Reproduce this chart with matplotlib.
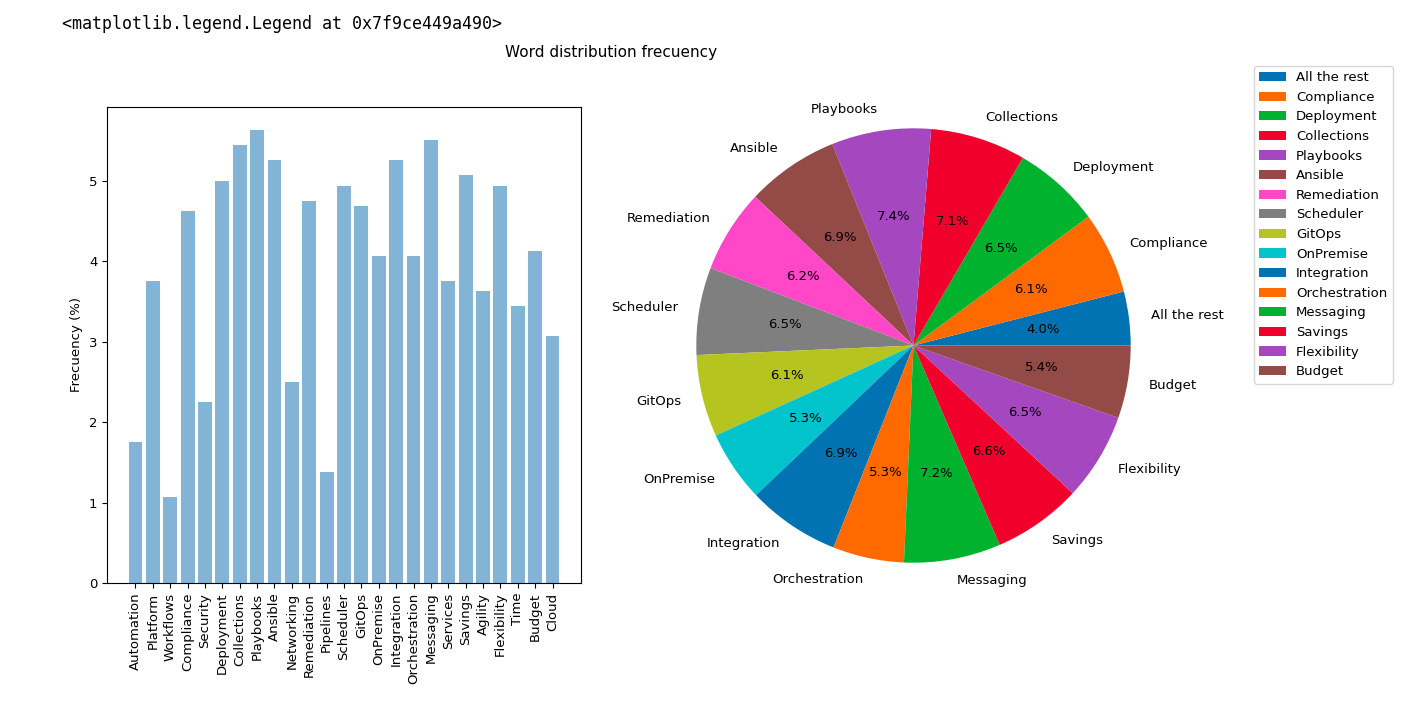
import matplotlib
matplotlib.use("Agg")
import matplotlib.pyplot as plt

# Bar chart data
bar_words = ["Automation", "Platform", "Workflows", "Compliance", "Security", "Deployment",
             "Collections", "Playbooks", "Ansible", "Networking", "Remediation", "Pipelines",
             "Scheduler", "GitOps", "OnPremise", "Integration", "Orchestration", "Messaging",
             "Services", "Savings", "Agility", "Flexibility", "Time", "Budget", "Cloud"]
bar_freq = [1.75, 3.76, 1.07, 4.63, 2.25, 5.00, 5.45, 5.64, 5.26, 2.50, 4.75, 1.38,
            4.94, 4.69, 4.07, 5.26, 4.07, 5.51, 3.76, 5.07, 3.63, 4.94, 3.45, 4.13, 3.07]

# Pie chart data
pie_words = ["All the rest", "Compliance", "Deployment", "Collections", "Playbooks", "Ansible",
             "Remediation", "Scheduler", "GitOps", "OnPremise", "Integration", "Orchestration",
             "Messaging", "Savings", "Flexibility", "Budget"]
pie_share = [4.0, 6.1, 6.5, 7.1, 7.4, 6.9, 6.2, 6.5, 6.1, 5.3, 6.9, 5.3, 7.2, 6.6, 6.5, 5.4]
palette = ["#0173b2", "#ff6a00", "#00b22d", "#f0002b", "#a547bf", "#944a47",
           "#ff47c8", "#7f7f7f", "#b5c41f", "#00c3cc"]
pie_colors = [palette[i % len(palette)] for i in range(len(pie_words))]

plt.rcParams["font.size"] = 9.5

fig = plt.figure(figsize=(14.12, 7.04), dpi=100)
fig.text(62 / 1412, 1 - 24 / 704, "<matplotlib.legend.Legend at 0x7f9ce449a490>",
         family="DejaVu Sans Mono", fontsize=12, va="center", ha="left")
fig.text(611 / 1412, 1 - 52 / 704, "Word distribution frecuency", fontsize=11,
         ha="center", va="center")

ax1 = fig.add_axes([107 / 1412, 121 / 704, 474 / 1412, 476 / 704])
ax1.bar(range(len(bar_words)), bar_freq, color="#1f77b4", alpha=0.55)
ax1.set_xticks(range(len(bar_words)))
ax1.set_xticklabels(bar_words, rotation=90)
ax1.set_ylabel("Frecuency (%)")

ax2 = fig.add_axes([642 / 1412, 87 / 704, 543 / 1412, 543 / 704])
wedges, _, _ = ax2.pie(pie_share, labels=pie_words, colors=pie_colors, autopct="%1.1f%%")
ax2.legend(wedges, pie_words, loc="upper left", bbox_to_anchor=(1254 / 1412, 1 - 66 / 704),
           bbox_transform=fig.transFigure, fontsize=9.5, borderaxespad=0)

fig.savefig("out.png", dpi=100)
